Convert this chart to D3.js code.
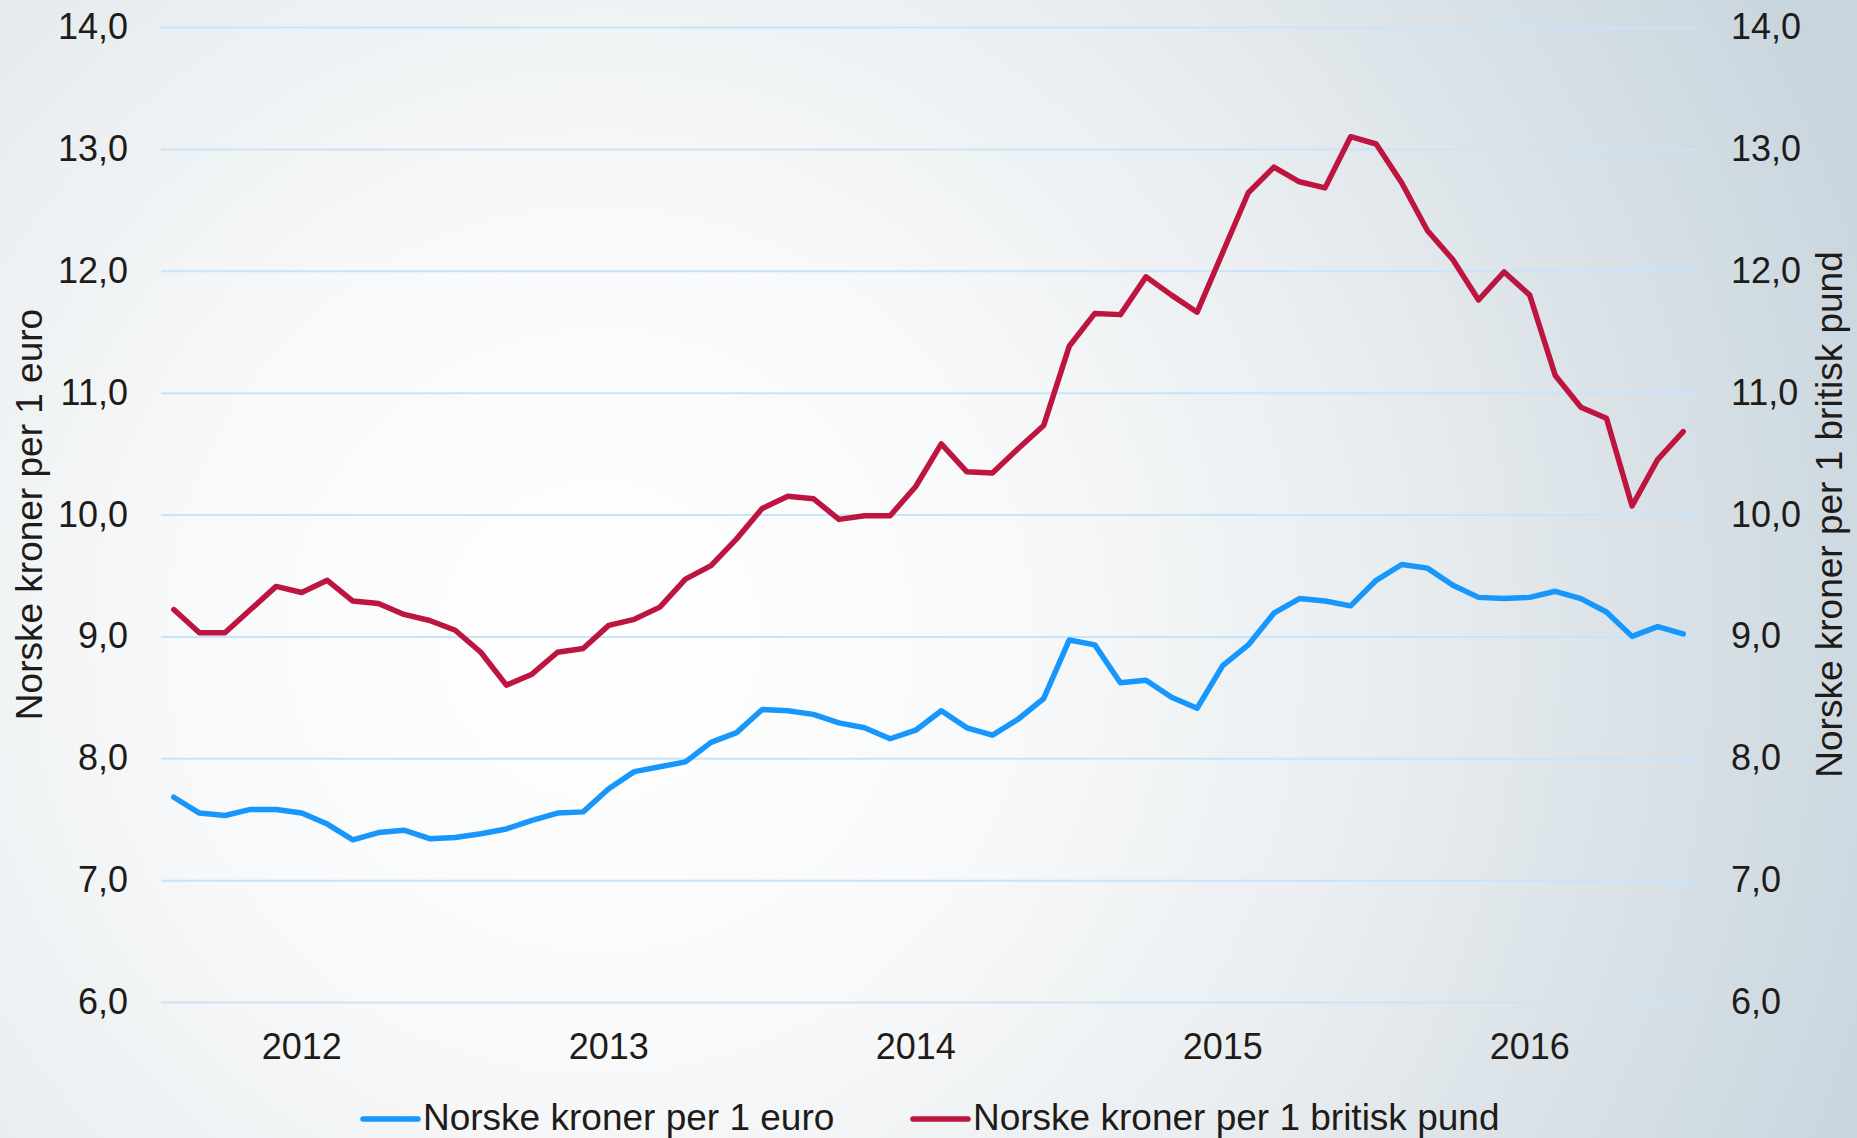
<!DOCTYPE html>
<html>
<head>
<meta charset="utf-8">
<script src="https://cdn.jsdelivr.net/npm/d3@7"></script>
<style>
  body { margin: 0; }
  text { font-family: "Liberation Sans", Arial, sans-serif; fill: #1f1b18; }
</style>
</head>
<body>
<svg id="chart" width="1857" height="1138"></svg>
<script>
// monthly averages, Jan 2012 - Dec 2016
const years = [2012, 2013, 2014, 2015, 2016];
const monthNums = ["01", "02", "03", "04", "05", "06", "07", "08", "09", "10", "11", "12"];

const eurValues = [
    7.68, 7.55, 7.53, 7.58, 7.58, 7.55, 7.46, 7.33, 7.39, 7.41, 7.34, 7.35,
    7.38, 7.42, 7.49, 7.55, 7.56, 7.75, 7.89, 7.93, 7.97, 8.13, 8.21, 8.40,
    8.39, 8.36, 8.29, 8.25, 8.16, 8.23, 8.39, 8.25, 8.19, 8.32, 8.49, 8.97,
    8.93, 8.62, 8.64, 8.50, 8.41, 8.76, 8.93, 9.19, 9.31, 9.29, 9.25, 9.46,
    9.59, 9.56, 9.42, 9.32, 9.31, 9.32, 9.37, 9.31, 9.20, 9.00, 9.08, 9.02
];

const gbpValues = [
    9.22, 9.03, 9.03, 9.22, 9.41, 9.36, 9.46, 9.29, 9.27, 9.18, 9.13, 9.05,
    8.87, 8.60, 8.69, 8.87, 8.90, 9.09, 9.14, 9.24, 9.47, 9.58, 9.80, 10.05,
    10.15, 10.13, 9.96, 9.99, 9.99, 10.23, 10.58, 10.35, 10.34, 10.54, 10.73, 11.38,
    11.65, 11.64, 11.95, 11.80, 11.66, 12.15, 12.64, 12.85, 12.73, 12.68, 13.10, 13.04,
    12.72, 12.33, 12.09, 11.76, 11.99, 11.80, 11.14, 10.88, 10.79, 10.07, 10.45, 10.68
];

const yTicks = [6, 7, 8, 9, 10, 11, 12, 13, 14];
const seriesNames = ["Norske kroner per 1 euro", "Norske kroner per 1 britisk pund"];
const seriesColors = ["#1796fb", "#bd1440"];
const leftTitle = "Norske kroner per 1 euro";
const rightTitle = "Norske kroner per 1 britisk pund";

var svg = d3.select("#chart");
const width = +svg.attr("width");
const height = +svg.attr("height");

// plot area
const plotLeft = 161;
const plotRight = 1696;
const plotTop = 27;
const plotBottom = 1002;

// norwegian decimal comma
const nb = d3.formatLocale({ decimal: ",", thousands: " ", grouping: [3], currency: ["", " kr"] });
const fmt = nb.format(".1f");

// month keys like "2012-01"
var months = [];
years.forEach(y => monthNums.forEach(m => months.push(y + "-" + m)));

//background, soft radial light from centre-left
var defs = svg.append("defs");
var grad = defs.append("radialGradient")
    .attr("id", "bg")
    .attr("gradientUnits", "userSpaceOnUse")
    .attr("cx", 600).attr("cy", 640).attr("r", 1350);
grad.append("stop").attr("offset", "0").attr("stop-color", "#ffffff");
grad.append("stop").attr("offset", "0.3").attr("stop-color", "#f8f9fa");
grad.append("stop").attr("offset", "0.55").attr("stop-color", "#ebeff1");
grad.append("stop").attr("offset", "1").attr("stop-color", "#c9d5de");
svg.append("rect")
    .attr("width", width).attr("height", height)
    .attr("fill", "url(#bg)");

// scales
let xScale = d3.scaleBand()
    .domain(months)
    .range([plotLeft, plotRight])
    .padding(0);

let yLeft = d3.scaleLinear().domain([6, 14]).range([plotBottom, plotTop]);
let yRight = d3.scaleLinear().domain([6, 14]).range([plotBottom, plotTop]);

//gridlines
svg.append("g")
    .attr("class", "grid")
    .attr("transform", "translate(" + plotLeft + ",0)")
    .call(d3.axisLeft(yLeft).tickValues(yTicks).tickSize(-(plotRight - plotLeft)).tickFormat(""))
    .call(g => g.select(".domain").remove())
    .selectAll("line")
    .attr("stroke", "#c9e3fb")
    .attr("stroke-width", 2);

// left axis
svg.append("g")
    .attr("transform", "translate(" + plotLeft + ",0)")
    .call(d3.axisLeft(yLeft).tickValues(yTicks).tickSize(0).tickPadding(33).tickFormat(fmt))
    .call(g => g.select(".domain").remove())
    .selectAll("text")
    .style("font-size", "36px")
    .style("font-family", "'Liberation Sans', Arial, sans-serif")
    .attr("fill", "#1f1b18");

// right axis
svg.append("g")
    .attr("transform", "translate(" + plotRight + ",0)")
    .call(d3.axisRight(yRight).tickValues(yTicks).tickSize(0).tickPadding(35).tickFormat(fmt))
    .call(g => g.select(".domain").remove())
    .selectAll("text")
    .style("font-size", "36px")
    .style("font-family", "'Liberation Sans', Arial, sans-serif")
    .attr("fill", "#1f1b18");

// x axis, year label sits on the june point
svg.append("g")
    .attr("transform", "translate(0," + plotBottom + ")")
    .call(d3.axisBottom(xScale)
        .tickValues(months.filter(m => m.endsWith("-06")))
        .tickSize(0).tickPadding(31)
        .tickFormat(m => m.slice(0, 4)))
    .call(g => g.select(".domain").remove())
    .selectAll("text")
    .style("font-size", "36px")
    .style("font-family", "'Liberation Sans', Arial, sans-serif")
    .attr("fill", "#1f1b18");

// axis titles, rotated
svg.append("text")
    .attr("transform", "translate(42," + ((plotTop + plotBottom) / 2) + ")rotate(-90)")
    .attr("text-anchor", "middle")
    .style("font-size", "37px")
    .text(leftTitle);

svg.append("text")
    .attr("transform", "translate(1842," + ((plotTop + plotBottom) / 2) + ")rotate(-90)")
    .attr("text-anchor", "middle")
    .style("font-size", "37px")
    .text(rightTitle);

// lines
const xMid = (m) => xScale(m) + xScale.bandwidth() / 2;

var eurLine = d3.line()
    .x((d, i) => xMid(months[i]))
    .y(d => yLeft(d));

var gbpLine = d3.line()
    .x((d, i) => xMid(months[i]))
    .y(d => yRight(d));

svg.append("path")
    .datum(eurValues)
    .attr("d", eurLine)
    .attr("fill", "none")
    .attr("stroke", seriesColors[0])
    .attr("stroke-width", 5.5)
    .attr("stroke-linejoin", "round")
    .attr("stroke-linecap", "round");

svg.append("path")
    .datum(gbpValues)
    .attr("d", gbpLine)
    .attr("fill", "none")
    .attr("stroke", seriesColors[1])
    .attr("stroke-width", 5.5)
    .attr("stroke-linejoin", "round")
    .attr("stroke-linecap", "round");

// legend
const legendX = [363, 913];
const legendY = 1119;

var legend = svg.append("g").attr("class", "legend");
var items = legend.selectAll("g")
    .data(seriesNames)
    .enter()
    .append("g")
    .attr("transform", (d, i) => "translate(" + legendX[i] + "," + legendY + ")");

items.append("line")
    .attr("x1", 0).attr("x2", 55)
    .attr("y1", 0).attr("y2", 0)
    .attr("stroke", (d, i) => seriesColors[i])
    .attr("stroke-width", 5.5)
    .attr("stroke-linecap", "round");

items.append("text")
    .attr("x", 60)
    .attr("y", 11)
    .style("font-size", "37px")
    .text(d => d);
</script>
</body>
</html>
